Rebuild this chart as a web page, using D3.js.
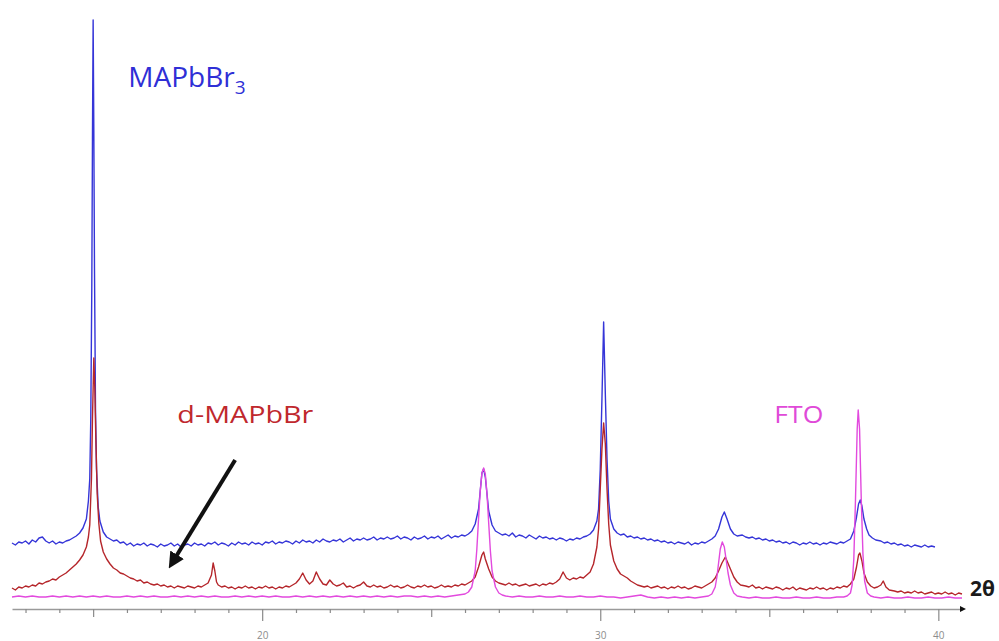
<!DOCTYPE html>
<html>
<head>
<meta charset="utf-8">
<script src="https://cdn.jsdelivr.net/npm/d3@7"></script>
<style>
html,body{margin:0;padding:0;background:#fff;}
svg{display:block;}
</style>
</head>
<body>
<svg id="chart" width="999" height="641"></svg>
<script>
// ---- data: [2θ (deg), intensity (a.u., stacked offsets included)] ----
const seriesNames = ["MAPbBr3", "d-MAPbBr", "FTO"];

const mapbbr3 = [
[12.6,66],[12.7,64],[12.8,67],[12.9,66],[13.0,68],[13.1,65],[13.2,69],[13.3,67],[13.4,71],[13.5,72],
[13.6,68],[13.7,66],[13.8,68],[13.9,65],[14.0,67],[14.1,66],[14.2,68],[14.3,69],[14.4,71],[14.5,73],
[14.6,76],[14.7,81],[14.8,90],[14.86,108],[14.9,130],[14.93,190],[14.96,320],[14.98,470],[15.0,589],
[15.02,480],[15.04,340],[15.07,200],[15.1,140],[15.15,102],[15.2,88],[15.3,77],[15.4,72],[15.5,70],
[15.6,68],[15.7,69],[15.8,66],[15.9,67],[16.0,64],[16.1,66],[16.2,63],[16.3,65],[16.4,64],[16.5,66],
[16.6,63],[16.7,65],[16.8,64],[16.9,62],[17.0,65],[17.1,63],[17.2,64],[17.3,66],[17.4,63],[17.5,65],
[17.6,62],[17.7,64],[17.8,65],[17.9,63],[18.0,66],[18.1,64],[18.2,65],[18.3,63],[18.4,66],[18.5,65],
[18.6,67],[18.7,64],[18.8,66],[18.9,65],[19.0,63],[19.1,66],[19.2,64],[19.3,67],[19.4,65],[19.5,66],
[19.6,64],[19.7,67],[19.8,65],[19.9,66],[20.0,64],[20.1,67],[20.2,66],[20.3,68],[20.4,65],[20.5,67],
[20.6,66],[20.7,68],[20.8,67],[20.9,65],[21.0,68],[21.1,66],[21.2,69],[21.3,67],[21.4,68],[21.5,66],
[21.6,69],[21.7,67],[21.8,70],[21.9,68],[22.0,67],[22.1,69],[22.2,68],[22.3,70],[22.4,67],[22.5,69],
[22.6,71],[22.7,68],[22.8,70],[22.9,69],[23.0,71],[23.1,69],[23.2,70],[23.3,72],[23.4,69],[23.5,71],
[23.6,70],[23.7,72],[23.8,70],[23.9,71],[24.0,73],[24.1,70],[24.2,72],[24.3,71],[24.4,69],[24.5,72],
[24.6,70],[24.7,71],[24.8,73],[24.9,70],[25.0,72],[25.1,71],[25.2,73],[25.3,70],[25.4,72],[25.5,74],
[25.6,71],[25.7,73],[25.8,72],[25.9,74],[26.0,73],[26.1,75],[26.2,78],[26.3,85],[26.4,100],[26.45,118],
[26.5,136],[26.55,140],[26.6,132],[26.65,115],[26.7,98],[26.8,84],[26.9,78],[27.0,76],[27.1,74],[27.2,75],
[27.3,73],[27.4,76],[27.5,72],[27.6,74],[27.7,73],[27.8,71],[27.9,74],[28.0,72],[28.1,70],[28.2,73],
[28.3,71],[28.4,72],[28.5,70],[28.6,71],[28.7,69],[28.8,71],[28.9,70],[29.0,68],[29.1,70],[29.2,69],
[29.3,71],[29.4,70],[29.5,72],[29.6,73],[29.7,75],[29.8,79],[29.9,88],[29.95,100],[30.0,140],[30.05,210],
[30.1,287],[30.15,215],[30.2,150],[30.25,108],[30.3,90],[30.4,80],[30.5,76],[30.6,74],[30.7,75],[30.8,72],
[30.9,73],[31.0,71],[31.1,72],[31.2,70],[31.3,71],[31.4,69],[31.5,70],[31.6,68],[31.7,69],[31.8,67],
[31.9,68],[32.0,66],[32.1,67],[32.2,65],[32.3,67],[32.4,66],[32.5,65],[32.6,67],[32.7,64],[32.8,66],
[32.9,65],[33.0,67],[33.1,66],[33.2,68],[33.3,70],[33.4,73],[33.5,80],[33.6,92],[33.67,97],[33.75,90],
[33.85,80],[33.95,75],[34.05,73],[34.2,74],[34.3,72],[34.4,71],[34.5,72],[34.6,70],[34.7,71],[34.8,69],
[34.9,70],[35.0,68],[35.1,69],[35.2,67],[35.3,68],[35.4,66],[35.5,67],[35.6,65],[35.7,67],[35.8,66],
[35.9,64],[36.0,66],[36.1,65],[36.2,67],[36.3,65],[36.4,66],[36.5,64],[36.6,66],[36.7,65],[36.8,67],
[36.9,66],[37.0,65],[37.1,67],[37.2,66],[37.3,68],[37.4,70],[37.5,78],[37.58,92],[37.64,105],[37.69,109],
[37.74,103],[37.8,90],[37.88,80],[37.95,74],[38.05,71],[38.15,69],[38.3,68],[38.4,66],[38.5,67],[38.6,65],
[38.7,66],[38.8,64],[38.9,65],[39.0,63],[39.1,64],[39.2,62],[39.3,64],[39.4,63],[39.5,62],[39.6,64],
[39.7,62],[39.8,63],[39.9,62]
];

const dMapbbr = [
[12.6,21],[12.7,19],[12.8,22],[12.9,21],[13.0,23],[13.1,22],[13.2,24],[13.3,23],[13.4,26],[13.5,25],
[13.6,27],[13.7,28],[13.8,30],[13.9,29],[14.0,32],[14.1,34],[14.2,36],[14.3,39],[14.4,42],[14.5,45],
[14.6,49],[14.7,54],[14.8,62],[14.86,72],[14.9,84],[14.95,130],[14.98,190],[15.02,251],[15.05,220],
[15.08,170],[15.12,115],[15.17,85],[15.22,68],[15.3,57],[15.4,50],[15.5,45],[15.6,41],[15.7,39],[15.8,36],
[15.9,35],[16.0,33],[16.1,31],[16.2,30],[16.3,28],[16.4,29],[16.5,26],[16.6,27],[16.7,25],[16.8,24],
[16.9,25],[17.0,23],[17.1,24],[17.2,22],[17.3,23],[17.4,21],[17.5,23],[17.6,22],[17.7,21],[17.8,23],
[17.9,22],[18.0,21],[18.1,23],[18.2,22],[18.3,24],[18.4,26],[18.5,34],[18.55,46],[18.6,38],[18.65,27],
[18.7,24],[18.8,22],[18.9,23],[19.0,21],[19.1,22],[19.2,20],[19.3,22],[19.4,21],[19.5,23],[19.6,21],
[19.7,22],[19.8,20],[19.9,22],[20.0,21],[20.1,23],[20.2,21],[20.3,22],[20.4,20],[20.5,22],[20.6,21],
[20.7,23],[20.8,22],[20.9,24],[21.0,26],[21.1,30],[21.2,36],[21.3,29],[21.4,25],[21.5,28],[21.6,37],
[21.7,30],[21.8,25],[21.9,24],[22.0,29],[22.1,25],[22.2,23],[22.3,24],[22.4,26],[22.5,22],[22.6,23],
[22.7,21],[22.8,23],[22.9,24],[23.0,27],[23.1,23],[23.2,22],[23.3,24],[23.4,22],[23.5,23],[23.6,21],
[23.7,22],[23.8,24],[23.9,22],[24.0,23],[24.1,21],[24.2,22],[24.3,24],[24.4,22],[24.5,21],[24.6,23],
[24.7,22],[24.8,24],[24.9,22],[25.0,23],[25.1,21],[25.2,22],[25.3,24],[25.4,22],[25.5,23],[25.6,22],
[25.7,24],[25.8,23],[25.9,25],[26.0,24],[26.1,26],[26.2,28],[26.3,32],[26.4,42],[26.5,54],[26.55,57],
[26.6,50],[26.7,40],[26.8,32],[26.9,28],[27.0,26],[27.1,25],[27.2,24],[27.3,26],[27.4,24],[27.5,25],
[27.6,23],[27.7,24],[27.8,25],[27.9,23],[28.0,24],[28.1,25],[28.2,23],[28.3,25],[28.4,24],[28.5,26],
[28.6,25],[28.7,27],[28.8,30],[28.9,37],[29.0,31],[29.1,29],[29.2,31],[29.3,30],[29.4,32],[29.5,31],
[29.6,34],[29.7,37],[29.8,45],[29.9,62],[29.95,80],[30.0,120],[30.05,160],[30.1,186],[30.15,165],[30.2,120],
[30.25,85],[30.3,64],[30.4,48],[30.5,40],[30.6,35],[30.7,33],[30.8,31],[30.9,28],[31.0,26],[31.1,24],
[31.2,23],[31.3,22],[31.4,23],[31.5,21],[31.6,22],[31.7,23],[31.8,21],[31.9,22],[32.0,20],[32.1,22],
[32.2,21],[32.3,23],[32.4,21],[32.5,22],[32.6,20],[32.7,21],[32.8,23],[32.9,22],[33.0,21],[33.1,23],
[33.2,25],[33.3,27],[33.4,31],[33.5,38],[33.6,46],[33.7,52],[33.75,48],[33.85,40],[33.95,32],[34.05,27],
[34.15,24],[34.3,23],[34.4,22],[34.5,24],[34.6,21],[34.7,22],[34.8,20],[34.9,22],[35.0,21],[35.1,20],
[35.2,22],[35.3,21],[35.4,19],[35.5,21],[35.6,20],[35.7,22],[35.8,19],[35.9,21],[36.0,20],[36.1,19],
[36.2,21],[36.3,20],[36.4,22],[36.5,20],[36.6,21],[36.7,19],[36.8,21],[36.9,20],[37.0,22],[37.1,21],
[37.2,23],[37.3,22],[37.4,25],[37.5,30],[37.58,42],[37.64,54],[37.68,56],[37.74,48],[37.8,36],[37.9,27],
[38.0,23],[38.1,21],[38.2,22],[38.3,24],[38.37,28],[38.45,22],[38.55,19],[38.7,18],[38.8,17],[38.9,18],
[39.0,16],[39.1,17],[39.2,16],[39.3,18],[39.4,16],[39.5,17],[39.6,15],[39.7,16],[39.8,17],[39.9,15],
[40.0,16],[40.1,15],[40.2,17],[40.3,15],[40.4,16],[40.5,14],[40.6,16],[40.7,15]
];

const fto = [
[12.6,12],[12.8,13],[13.0,12],[13.2,13],[13.4,12],[13.6,12],[13.8,13],[14.0,12],[14.2,13],[14.4,12],
[14.6,13],[14.8,12],[15.0,13],[15.2,12],[15.4,13],[15.6,12],[15.8,12],[16.0,13],[16.2,12],[16.4,13],
[16.6,12],[16.8,13],[17.0,12],[17.2,12],[17.4,13],[17.6,12],[17.8,13],[18.0,12],[18.2,13],[18.4,12],
[18.6,13],[18.8,12],[19.0,12],[19.2,13],[19.4,12],[19.6,13],[19.8,12],[20.0,13],[20.2,12],[20.4,13],
[20.6,12],[20.8,12],[21.0,13],[21.2,12],[21.4,13],[21.6,12],[21.8,13],[22.0,12],[22.2,13],[22.4,12],
[22.6,13],[22.8,12],[23.0,13],[23.2,12],[23.4,13],[23.6,12],[23.8,13],[24.0,12],[24.2,13],[24.4,13],
[24.6,12],[24.8,13],[25.0,12],[25.2,13],[25.4,12],[25.6,13],[25.8,14],[26.0,15],[26.1,17],[26.2,22],
[26.3,38],[26.35,60],[26.4,90],[26.45,118],[26.5,136],[26.55,141],[26.6,135],[26.65,115],[26.7,86],
[26.75,58],[26.8,38],[26.9,22],[27.0,16],[27.1,14],[27.2,13],[27.4,12],[27.6,13],[27.8,12],[28.0,12],
[28.2,13],[28.4,12],[28.6,12],[28.8,13],[29.0,12],[29.2,12],[29.4,13],[29.6,12],[29.8,12],[30.0,13],
[30.2,12],[30.4,12],[30.6,11],[30.8,12],[31.0,13],[31.2,14],[31.4,12],[31.6,11],[31.8,12],[32.0,11],
[32.2,12],[32.4,11],[32.6,12],[32.8,11],[33.0,12],[33.2,13],[33.3,15],[33.4,22],[33.45,32],[33.5,46],
[33.55,60],[33.61,67],[33.67,62],[33.72,50],[33.78,36],[33.85,24],[33.95,16],[34.05,13],[34.2,12],[34.4,11],
[34.6,12],[34.8,11],[35.0,11],[35.2,12],[35.4,11],[35.6,11],[35.8,12],[36.0,11],[36.2,11],[36.4,12],
[36.6,11],[36.8,11],[37.0,12],[37.2,12],[37.3,13],[37.4,16],[37.45,24],[37.5,50],[37.55,110],[37.6,180],
[37.63,199],[37.67,180],[37.72,110],[37.77,55],[37.82,28],[37.9,16],[38.0,13],[38.1,12],[38.3,11],[38.5,12],
[38.7,11],[38.9,11],[39.1,12],[39.3,11],[39.5,11],[39.7,12],[39.9,11],[40.1,11],[40.3,12],[40.5,11],[40.7,11]
];

const minorTicks = [13,14,16,17,18,19,21,22,23,24,26,27,28,29,31,32,33,34,36,37,38,39];
const mediumTicks = [15,25,35];
const majorTicks = [20,30,40];
const tickLabels = ["20","30","40"];
const axisTitle = "2θ";

// annotation anchors in data coordinates [2θ, intensity]
const arrowFrom = [19.2, 149];
const arrowTo = [17.28, 43];

// ---- drawing ----
const svg = d3.select("#chart");
svg.append("rect").attr("width", 999).attr("height", 641).attr("fill", "#fff");

const x = d3.scaleLinear().domain([12.6, 40.7]).range([12, 962]);
const y = d3.scaleLinear().domain([0, 600]).range([609, 9]);

const colors = {"MAPbBr3": "#3535d8", "d-MAPbBr": "#b5262b", "FTO": "#e24ade"};

const line = d3.line().x(d => x(d[0])).y(d => y(d[1]));

// axis
const axisY = y(0);
const domainAxis = d3.axisBottom(x).tickValues([]).tickSizeOuter(0);
const gAxis = svg.append("g").attr("transform", `translate(0,${axisY})`).call(domainAxis);
gAxis.select(".domain").attr("stroke", "#9a9a9a").attr("stroke-width", 1.6);

const gMinor = svg.append("g").attr("transform", `translate(0,${axisY})`)
  .call(d3.axisBottom(x).tickValues(minorTicks).tickSize(4).tickFormat(""));
const gMed = svg.append("g").attr("transform", `translate(0,${axisY})`)
  .call(d3.axisBottom(x).tickValues(mediumTicks).tickSize(8).tickFormat(""));
const gMaj = svg.append("g").attr("transform", `translate(0,${axisY})`)
  .call(d3.axisBottom(x).tickValues(majorTicks).tickSize(12).tickPadding(11)
    .tickFormat((d, i) => tickLabels[i]));
[gMinor, gMed, gMaj].forEach(g => {
  g.select(".domain").remove();
  g.selectAll(".tick line").attr("stroke", "#8a8a8a").attr("stroke-width", 1.2);
});
gMaj.selectAll(".tick text").attr("fill", "#8c8c8c").attr("font-size", 10)
  .attr("font-family", "Open Sans, sans-serif");

// arrow head at axis end
const xEnd = x.range()[1];
svg.append("path")
  .attr("d", `M${xEnd - 2},${axisY - 3} L${xEnd + 4},${axisY} L${xEnd - 2},${axisY + 3} Z`)
  .attr("fill", "#111");

svg.append("text").attr("x", 970).attr("y", 596)
  .attr("font-family", "Open Sans, sans-serif").attr("font-weight", "bold")
  .attr("font-size", 21).attr("fill", "#1a1a1a").text(axisTitle);

// series
const seriesData = [mapbbr3, dMapbbr, fto];
seriesData.forEach((data, i) => {
  svg.append("path").datum(data)
    .attr("d", line)
    .attr("fill", "none")
    .attr("stroke", colors[seriesNames[i]])
    .attr("stroke-width", 1.4)
    .attr("stroke-linejoin", "round");
});

// labels
const t1 = svg.append("text").attr("x", x(16.04)).attr("y", y(522))
  .attr("font-family", "Open Sans, sans-serif").attr("font-size", 28)
  .attr("fill", "#2f2fd6");
t1.append("tspan").text("MAPbBr");
t1.append("tspan").attr("font-size", 19).attr("dy", 7).text("3");

svg.append("text").attr("x", x(17.49)).attr("y", y(186))
  .attr("font-family", "Open Sans, sans-serif").attr("font-size", 23)
  .attr("textLength", 136).attr("lengthAdjust", "spacingAndGlyphs")
  .attr("fill", "#c0282d").text("d-MAPbBr");

svg.append("text").attr("x", x(35.15)).attr("y", y(186))
  .attr("font-family", "Open Sans, sans-serif").attr("font-size", 23)
  .attr("textLength", 49).attr("lengthAdjust", "spacingAndGlyphs")
  .attr("fill", "#e04ad8").text("FTO");

// annotation arrow
const defs = svg.append("defs");
defs.append("marker").attr("id", "ah").attr("viewBox", "0 0 10 10")
  .attr("refX", 2).attr("refY", 5).attr("markerWidth", 4).attr("markerHeight", 4)
  .attr("orient", "auto")
  .append("path").attr("d", "M0,0 L10,5 L0,10 Z").attr("fill", "#111");
const ax0 = x(arrowFrom[0]), ay0 = y(arrowFrom[1]);
const ax1 = x(arrowTo[0]), ay1 = y(arrowTo[1]);
const ang = Math.atan2(ay1 - ay0, ax1 - ax0);
svg.append("line")
  .attr("x1", ax0).attr("y1", ay0)
  .attr("x2", ax1 - Math.cos(ang) * 10).attr("y2", ay1 - Math.sin(ang) * 10)
  .attr("stroke", "#111").attr("stroke-width", 4)
  .attr("marker-end", "url(#ah)");
</script>
</body>
</html>
